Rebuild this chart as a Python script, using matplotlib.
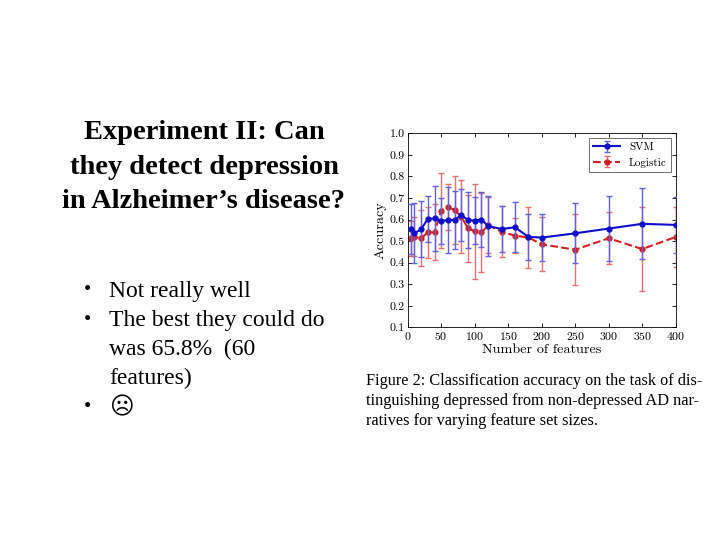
import numpy as np
import matplotlib
matplotlib.use("Agg")
import matplotlib.pyplot as plt

# data
n_features = [5, 10, 20, 30, 40, 50, 60, 70, 80, 90, 100, 110, 120, 140, 160, 180, 200, 250, 300, 350, 400]
svm_acc = [0.555, 0.536, 0.555, 0.603, 0.605, 0.593, 0.598, 0.598, 0.621, 0.598, 0.595, 0.600,
           0.570, 0.556, 0.564, 0.520, 0.516, 0.536, 0.558, 0.580, 0.575]
svm_err = [0.115, 0.14, 0.13, 0.107, 0.15, 0.105, 0.155, 0.135, 0.12, 0.13, 0.11, 0.128,
           0.14, 0.105, 0.116, 0.107, 0.11, 0.14, 0.15, 0.165, 0.13]
log_acc = [0.513, 0.520, 0.513, 0.540, 0.540, 0.641, 0.658, 0.644, 0.613, 0.560, 0.545, 0.540,
           0.573, 0.544, 0.525, 0.517, 0.485, 0.460, 0.513, 0.463, 0.519]
log_err = [0.08, 0.09, 0.13, 0.12, 0.13, 0.175, 0.107, 0.156, 0.17, 0.155, 0.22, 0.185,
           0.13, 0.12, 0.08, 0.14, 0.125, 0.165, 0.12, 0.195, 0.14]

title_lines = ["Experiment II: Can", "they detect depression", "in Alzheimer\u2019s disease?"]
bullets = [("\u2022", "Not really well"), ("\u2022", "The best they could do"), ("", "was 65.8%  (60"),
           ("", "features)"), ("\u2022", "\u2639")]
caption = ["Figure 2: Classification accuracy on the task of dis-",
           "tinguishing depressed from non-depressed AD nar-",
           "ratives for varying feature set sizes."]

plt.rcParams['axes.formatter.use_mathtext'] = True
fig = plt.figure(figsize=(7.2, 5.4), dpi=100)
fig.patch.set_facecolor('white')

serif = ['Liberation Serif', 'DejaVu Serif']
cm = ['cmr10', 'DejaVu Serif']

# slide title
for i, line in enumerate(title_lines):
    fig.text(204 / 720, 1 - (133 + i * 34.5) / 540, line, ha='center', va='center',
             fontsize=20.5, fontweight='bold', family=serif)

# bullets
for i, (b, t) in enumerate(bullets):
    y = 1 - (291 + i * 29.2) / 540
    if b:
        fig.text(84 / 720, y, b, ha='left', va='center', fontsize=15, family=serif)
    fam = ['DejaVu Sans'] if t == "\u2639" else serif
    fig.text(109 / 720, y, t, ha='left', va='center', fontsize=17, family=fam)

# caption
for i, line in enumerate(caption):
    fig.text(366 / 720, 1 - (381 + i * 20) / 540, line, ha='left', va='center',
             fontsize=11.7, family=serif)

# embedded chart
ax = fig.add_axes([407.7 / 720, 1 - 327.3 / 540, 268 / 720, 194 / 540])
ax.errorbar(n_features, svm_acc, yerr=svm_err, color='#1010c8', marker='o', markersize=3.5,
            linewidth=1.5, ecolor='#6060e0', elinewidth=1, capsize=2, label='SVM', zorder=3)
ax.errorbar(n_features, log_acc, yerr=log_err, color='#d42020', marker='o', markersize=3.5,
            linewidth=1.5, linestyle='--', ecolor='#e87070', elinewidth=1, capsize=2,
            label='Logistic', zorder=2)
ax.set_xlim(0, 400)
ax.set_ylim(0.1, 1.0)
ax.set_xticks(np.arange(0, 401, 50))
ax.set_yticks(np.arange(0.1, 1.01, 0.1))
ax.set_yticklabels([f"{v:.1f}" for v in np.arange(0.1, 1.01, 0.1)])
ax.tick_params(direction='in', top=True, right=True, labelsize=8.5, length=3, width=0.6, pad=2)
for lab in ax.get_xticklabels() + ax.get_yticklabels():
    lab.set_family(cm)
ax.set_xlabel('Number of features', fontsize=10.2, family=cm, labelpad=1)
ax.set_ylabel('Accuracy', fontsize=10.2, family=cm, labelpad=2)
for s in ax.spines.values():
    s.set_linewidth(0.6)
leg = ax.legend(loc='upper right', prop={'family': cm, 'size': 8},
                fancybox=False, edgecolor='#333333', borderaxespad=0.4, handlelength=2.4)
leg.get_frame().set_linewidth(0.6)

fig.savefig('out.png', dpi=100, facecolor='white')
